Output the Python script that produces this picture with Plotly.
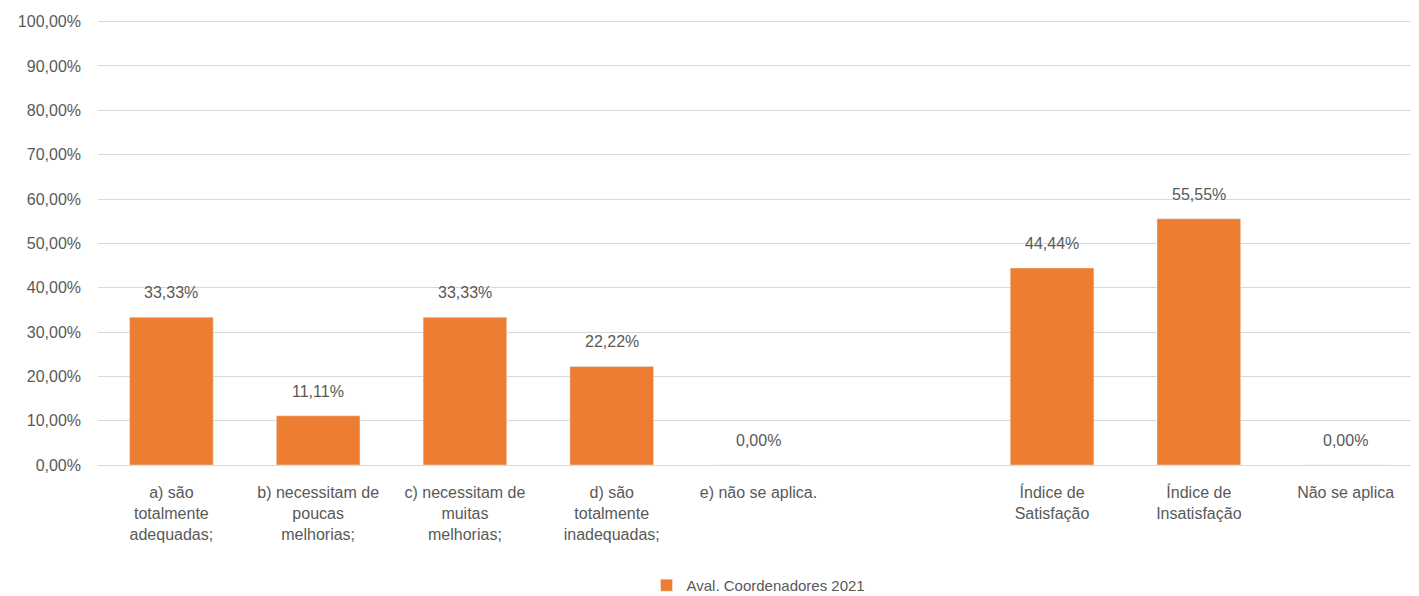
import plotly.graph_objects as go

categories = [
    "a) são<br>totalmente<br>adequadas;",
    "b) necessitam de<br>poucas<br>melhorias;",
    "c) necessitam de<br>muitas<br>melhorias;",
    "d) são<br>totalmente<br>inadequadas;",
    "e) não se aplica.",
    " ",
    "Índice de<br>Satisfação",
    "Índice de<br>Insatisfação",
    "Não se aplica",
]
values = [0.3333, 0.1111, 0.3333, 0.2222, 0.0, None, 0.4444, 0.5555, 0.0]
series_name = "Aval. Coordenadores 2021"
y_ticks = [i / 10 for i in range(11)]

font_family = "Liberation Sans"
text_color = "#595959"

fig = go.Figure()
fig.add_trace(go.Bar(
    x=categories, y=values, name=series_name,
    marker=dict(color="#ED7D31"), width=0.57,
    hoverinfo="skip",
))

for c, v in zip(categories, values):
    if v is None:
        continue
    fig.add_annotation(
        x=c, y=v, text=f"{v*100:.2f}%".replace(".", ","),
        showarrow=False, yanchor="bottom", yshift=14,
        font=dict(family=font_family, size=16, color=text_color),
    )

fig.update_layout(
    width=1411, height=588,
    margin=dict(l=90, r=0, t=11, b=131, autoexpand=False),
    paper_bgcolor="white", plot_bgcolor="white",
    separators=",.",
    font=dict(family=font_family, size=15, color=text_color),
    bargap=0.43,
    showlegend=True,
    legend=dict(orientation="h", x=0.5, xanchor="center", yref="container",
                y=0.018, yanchor="middle", itemwidth=30,
                font=dict(size=15, color=text_color)),
    xaxis=dict(type="category", showgrid=False, showline=True, linecolor="#D9D9D9",
               tickfont=dict(size=16, color=text_color), ticks="", tickangle=0,
               automargin=False, ticklabelstandoff=13),
    yaxis=dict(range=[0, 1.006], tickvals=y_ticks, tickformat=".2%", showgrid=True,
               gridcolor="#D9D9D9", zeroline=False, showline=False,
               tickfont=dict(size=16, color=text_color), ticks="",
               automargin=False, ticklabelstandoff=16),
)

fig.write_html("out.html")
